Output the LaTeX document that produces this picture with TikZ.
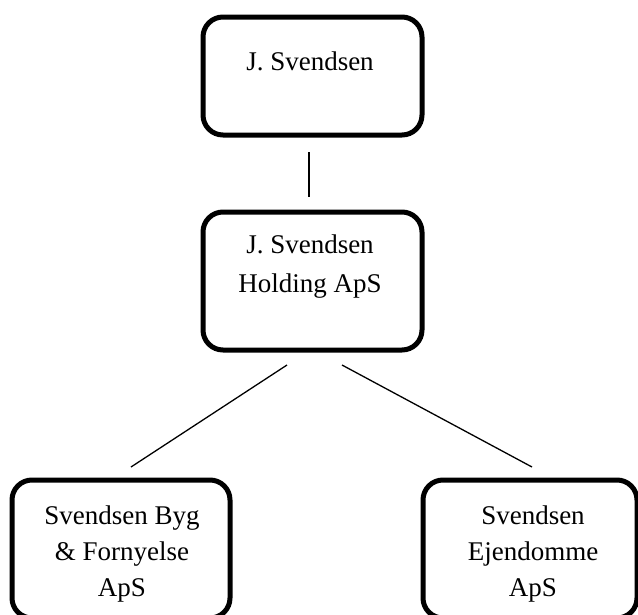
\documentclass[tikz,border=0pt]{standalone}
\usepackage{fontspec}
\setmainfont{Liberation Serif}
\begin{document}
\begin{tikzpicture}[x=1pt,y=-1pt,
  box/.style={draw=black,line width=5pt,rounded corners=20pt,rectangle,inner sep=0pt},
  lbl/.style={align=center,inner sep=0pt,anchor=base,font=\fontsize{27}{36}\selectfont},
  conn/.style={draw=black,line width=1.3pt}]
\useasboundingbox (0,0) rectangle (638,614);
\node[box,minimum width=219pt,minimum height=118pt] (top) at (312.5,76) {};
\node[box,minimum width=219pt,minimum height=138pt] (mid) at (312.5,281) {};
\node[box,minimum width=218pt,minimum height=138pt] (bl) at (121,549) {};
\node[box,minimum width=214pt,minimum height=138pt] (br) at (530,549) {};
\node[lbl] (ttop) at (310,70) {J. Svendsen};
\node[lbl,font=\fontsize{27}{39}\selectfont] (tmid) at (310,292) {J. Svendsen\\Holding ApS};
\node[lbl] (tbl) at (122,596) {Svendsen Byg\\\& Fornyelse\\ApS};
\node[lbl] (tbr) at (533,596) {Svendsen\\Ejendomme\\ApS};
\coordinate (a1) at (309,152);
\coordinate (a2) at (309,197);
\coordinate (b1) at (287,365);
\coordinate (b2) at (131,467);
\coordinate (c1) at (342,365);
\coordinate (c2) at (532,467);
\draw[conn] (a1) -- (a2);
\draw[conn] (b1) -- (b2);
\draw[conn] (c1) -- (c2);
\end{tikzpicture}
\end{document}
